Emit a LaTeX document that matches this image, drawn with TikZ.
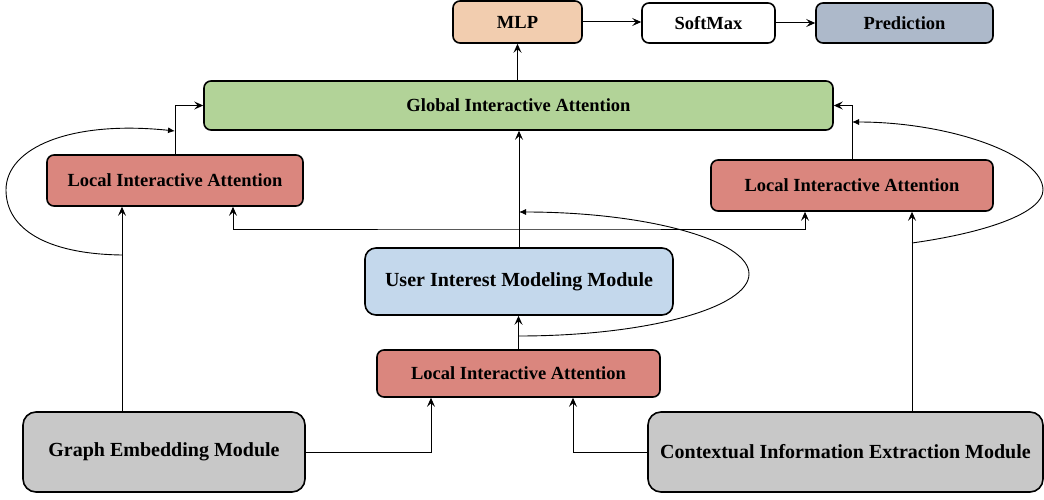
\documentclass[tikz,border=0pt]{standalone}
\usepackage{fontspec}
\setmainfont{Liberation Serif}
\usetikzlibrary{arrows.meta,calc}
\definecolor{mlpc}{HTML}{F2CDAF}
\definecolor{globc}{HTML}{B2D398}
\definecolor{liac}{HTML}{DA867E}
\definecolor{uimc}{HTML}{C4D8EC}
\definecolor{grayc}{HTML}{C8C8C8}
\definecolor{predc}{HTML}{ADB9CA}
\tikzset{
  box/.style={draw=black, line width=1.6pt, rounded corners=7pt, inner sep=0pt, align=center,
    font=\fontsize{18.5}{22}\selectfont\bfseries},
  bigbox/.style={box, rounded corners=13pt, font=\fontsize{20}{24}\selectfont\bfseries},
  arr/.style={draw=black, line width=1pt, -{Stealth[length=9pt,width=8pt,inset=3.5pt]}},
  dual/.style={draw=black, line width=1pt, {Stealth[length=9pt,width=8pt,inset=3.5pt]}-{Stealth[length=9pt,width=8pt,inset=3.5pt]}},
  loop/.style={draw=black, line width=0.9pt, -{Latex[length=7pt,width=6pt]}}
}
\begin{document}
\begin{tikzpicture}[x=1pt,y=-1pt]
\useasboundingbox (0,0) rectangle (1044,500);
% nodes
\node[box, fill=mlpc, minimum width=129pt, minimum height=42pt] (mlp) at (517.5,22) {MLP};
\node[box, fill=white, minimum width=133pt, minimum height=40pt] (soft) at (708.5,23) {SoftMax};
\node[box, fill=predc, minimum width=177pt, minimum height=40pt] (pred) at (904.5,23) {Prediction};
\node[box, fill=globc, minimum width=629pt, minimum height=49pt] (glob) at (518.5,105.5) {Global Interactive Attention};
\node[box, fill=liac, minimum width=256pt, minimum height=51pt] (lial) at (175,180.5) {Local Interactive Attention};
\node[box, fill=liac, minimum width=282pt, minimum height=51pt] (liar) at (852,185.5) {Local Interactive Attention};
\node[bigbox, rounded corners=11pt, fill=uimc, minimum width=308pt, minimum height=67pt] (uim) at (519,281.5) {User Interest Modeling Module};
\node[box, fill=liac, minimum width=283pt, minimum height=47pt] (liab) at (518.5,373.5) {Local Interactive Attention};
\node[bigbox, fill=grayc, minimum width=282pt, minimum height=80pt] (ge) at (164,452) {Graph Embedding Module};
\node[bigbox, fill=grayc, minimum width=395pt, minimum height=80pt] (cie) at (845.5,452) {Contextual Information Extraction Module};
% helper coordinates
\coordinate (xge) at (122,0);
\coordinate (xcie) at (912,0);
\coordinate (xa) at (431,0);
\coordinate (xb) at (573,0);
\coordinate (xl) at (233,0);
\coordinate (xr) at (805,0);
\coordinate (split) at (519,229);
\coordinate (lstart) at (122,255);
\coordinate (lend) at (175,131);
\coordinate (mstart) at (518.5,336);
\coordinate (mend) at (519,212);
\coordinate (rstart) at (912,243);
\coordinate (rend) at (852,122);
% top row
\draw[arr] (mlp.east) -- (soft.west |- mlp.east);
\draw[arr] (soft.east) -- (pred.west |- soft.east);
\draw[arr] (mlp.south |- glob.north) -- (mlp.south);
% into global
\draw[arr] (uim.north) -- (uim.north |- glob.south);
\draw[arr] (lial.north) |- (glob.west);
\draw[arr] (liar.north) |- (glob.east);
% into local attentions
\draw[arr] (ge.north -| xge) -- (lial.south -| xge);
\draw[arr] (cie.north -| xcie) -- (liar.south -| xcie);
\draw[arr] (ge.east) -| (liab.south -| xa);
\draw[arr] (cie.west) -| (liab.south -| xb);
\draw[arr] (liab.north) -- (liab.north |- uim.south);
\draw[dual] (lial.south -| xl) |- (split) -| (liar.south -| xr);
% loops
\draw[loop] (lstart) .. controls (45,254) and (6,228) .. (6,190) .. controls (6,148) and (70,120) .. (lend);
\draw[loop] (mstart) .. controls (646,336) and (749,308) .. (749,274) .. controls (749,240) and (646,212) .. (mend);
\draw[loop] (rstart) .. controls (990,232) and (1043,212) .. (1043,190) .. controls (1043,155) and (950,122) .. (rend);
\end{tikzpicture}
\end{document}
